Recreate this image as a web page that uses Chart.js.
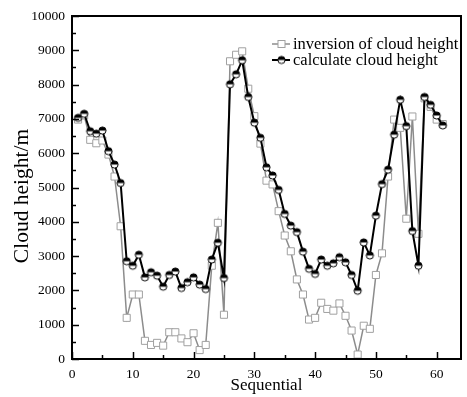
<!DOCTYPE html>
<html>
<head>
<meta charset="utf-8">
<script src="https://cdn.jsdelivr.net/npm/chart.js@4.4.1/dist/chart.umd.min.js"></script>
<style>
  html, body { margin: 0; padding: 0; background: #fff; }
  #wrap { width: 467px; height: 397px; }
</style>
</head>
<body>
<div id="wrap"><canvas id="chart" width="467" height="397"></canvas></div>
<script>
// sample numbers 1..61
const sequence = Array.from({ length: 61 }, (_, i) => i + 1);

// inversion of cloud height (grey squares)
const inversionHeight = [
  6980, 7100, 6390, 6290, 6370, 5960, 5320, 3870, 1200, 1880,
  1880, 530, 410, 470, 390, 780, 780, 600, 490, 750,
  260, 410, 2720, 3970, 1290, 8680, 8870, 8970, 7880, 7080,
  6280, 5200, 5090, 4310, 3600, 3140, 2320, 1880, 1150, 1200,
  1640, 1460, 1410, 1620, 1260, 830, 130, 970, 880, 2450,
  3080, 5320, 6980, 6740, 4090, 7070, 3650, 7600, 7350, 6980,
  6850
];

// calculate cloud height (black half-filled circles)
const calculatedHeight = [
  7030, 7150, 6640, 6570, 6660, 6060, 5670, 5130, 2850, 2720,
  3040, 2380, 2530, 2430, 2110, 2450, 2550, 2070, 2240, 2380,
  2170, 2040, 2900, 3390, 2360, 8010, 8300, 8710, 7640, 6890,
  6450, 5590, 5350, 4930, 4230, 3890, 3700, 3130, 2630, 2480,
  2900, 2720, 2790, 2970, 2820, 2450, 1990, 3400, 3020, 4180,
  5100, 5520, 6540, 7560, 6790, 3730, 2720, 7640, 7410, 7100,
  6810
];

const xTickValues = [0, 10, 20, 30, 40, 50, 60];
const yTickValues = [0, 1000, 2000, 3000, 4000, 5000, 6000, 7000, 8000, 9000, 10000];

const serif = '"Liberation Serif", "DejaVu Serif", serif';

// half black / half white circle marker
function halfCircle(r) {
  const size = Math.ceil(r * 2 + 3);
  const c = document.createElement('canvas');
  c.width = size; c.height = size;
  const g = c.getContext('2d');
  const m = size / 2;
  g.beginPath(); g.arc(m, m, r, 0, Math.PI * 2); g.fillStyle = '#fff'; g.fill();
  g.beginPath(); g.arc(m, m, r, Math.PI, Math.PI * 2); g.closePath(); g.fillStyle = '#000'; g.fill();
  g.beginPath(); g.arc(m, m, r, 0, Math.PI * 2); g.lineWidth = 1; g.strokeStyle = '#000'; g.stroke();
  return c;
}
const blackMarker = halfCircle(3.6);

// inward ticks, box frame, y title and in-plot legend
const framePlugin = {
  id: 'frame',
  afterDraw(chart) {
    const ctx = chart.ctx;
    const a = chart.chartArea;
    const xs = chart.scales.x, ys = chart.scales.y;
    ctx.save();
    ctx.strokeStyle = '#000';
    ctx.lineWidth = 1.5;
    for (let v = 0; v <= 60; v += 5) {
      const px = Math.round(xs.getPixelForValue(v)) + 0.5;
      const len = v % 10 === 0 ? 7 : 4;
      ctx.beginPath(); ctx.moveTo(px, a.bottom); ctx.lineTo(px, a.bottom - len); ctx.stroke();
    }
    for (let v = 0; v <= 10000; v += 500) {
      const py = Math.round(ys.getPixelForValue(v)) + 0.5;
      const len = v % 1000 === 0 ? 7 : 4;
      ctx.beginPath(); ctx.moveTo(a.left, py); ctx.lineTo(a.left + len, py); ctx.stroke();
    }
    ctx.lineWidth = 2;
    ctx.strokeRect(a.left, a.top, a.right - a.left, a.bottom - a.top);

    // y axis title, sits a bit below the middle like the original
    ctx.save();
    ctx.translate(22, 196);
    ctx.rotate(-Math.PI / 2);
    ctx.font = '21.5px ' + serif;
    ctx.textAlign = 'center';
    ctx.textBaseline = 'middle';
    ctx.fillStyle = '#000';
    ctx.fillText('Cloud height/m', 0, 0);
    ctx.restore();

    // legend
    const rows = [
      { ds: chart.data.datasets[0], y: 44 },
      { ds: chart.data.datasets[1], y: 60 }
    ];
    ctx.font = '16.5px ' + serif;
    ctx.textBaseline = 'middle';
    ctx.fillStyle = '#000';
    rows.forEach(r => {
      ctx.beginPath();
      ctx.moveTo(272, r.y); ctx.lineTo(290, r.y);
      ctx.strokeStyle = r.ds.borderColor; ctx.lineWidth = r.ds.borderWidth;
      ctx.stroke();
      if (r.ds.pointStyle === 'rect') {
        ctx.fillStyle = '#fff'; ctx.fillRect(278, r.y - 3.5, 7, 7);
        ctx.strokeStyle = r.ds.pointBorderColor; ctx.lineWidth = 1;
        ctx.strokeRect(278, r.y - 3.5, 7, 7);
      } else {
        ctx.drawImage(blackMarker, 281.5 - blackMarker.width / 2, r.y - blackMarker.height / 2);
      }
      ctx.fillStyle = '#000';
      ctx.fillText(r.ds.label, 293, r.y + 1);
    });
    ctx.restore();
  }
};

new Chart(document.getElementById('chart'), {
  type: 'line',
  data: {
    labels: sequence,
    datasets: [
      {
        label: 'inversion of cloud height',
        data: sequence.map((x, i) => ({ x: x, y: inversionHeight[i] })),
        borderColor: '#8c8c8c',
        borderWidth: 1.5,
        pointStyle: 'rect',
        pointRadius: 5,
        pointBackgroundColor: '#fff',
        pointBorderColor: '#a0a0a0',
        pointBorderWidth: 1,
        tension: 0,
        order: 1
      },
      {
        label: 'calculate cloud height',
        data: sequence.map((x, i) => ({ x: x, y: calculatedHeight[i] })),
        borderColor: '#000',
        borderWidth: 2,
        pointStyle: blackMarker,
        pointRadius: 4,
        tension: 0,
        order: 0
      }
    ]
  },
  options: {
    responsive: false,
    animation: false,
    layout: { padding: { top: 16, right: 2, left: 0, bottom: 0 } },
    plugins: { legend: { display: false }, tooltip: { enabled: false } },
    scales: {
      x: {
        type: 'linear',
        min: 0,
        max: 64,
        afterBuildTicks: s => { s.ticks = xTickValues.map(v => ({ value: v })); },
        afterFit: s => { s.height = 38; },
        grid: { display: false, drawTicks: false },
        border: { display: false },
        ticks: { color: '#000', font: { family: serif, size: 13.5 }, padding: 7, maxRotation: 0, callback: v => String(v) },
        title: { display: true, text: 'Sequential', color: '#000', font: { family: serif, size: 17 }, padding: { top: 0, bottom: 1.5 } }
      },
      y: {
        min: 0,
        max: 10000,
        afterBuildTicks: s => { s.ticks = yTickValues.map(v => ({ value: v })); },
        afterFit: s => { s.width = 72; },
        grid: { display: false, drawTicks: false },
        border: { display: false },
        ticks: { color: '#000', font: { family: serif, size: 13.5 }, padding: 7, callback: v => String(v) },
        title: { display: false }
      }
    }
  },
  plugins: [framePlugin]
});
</script>
</body>
</html>
